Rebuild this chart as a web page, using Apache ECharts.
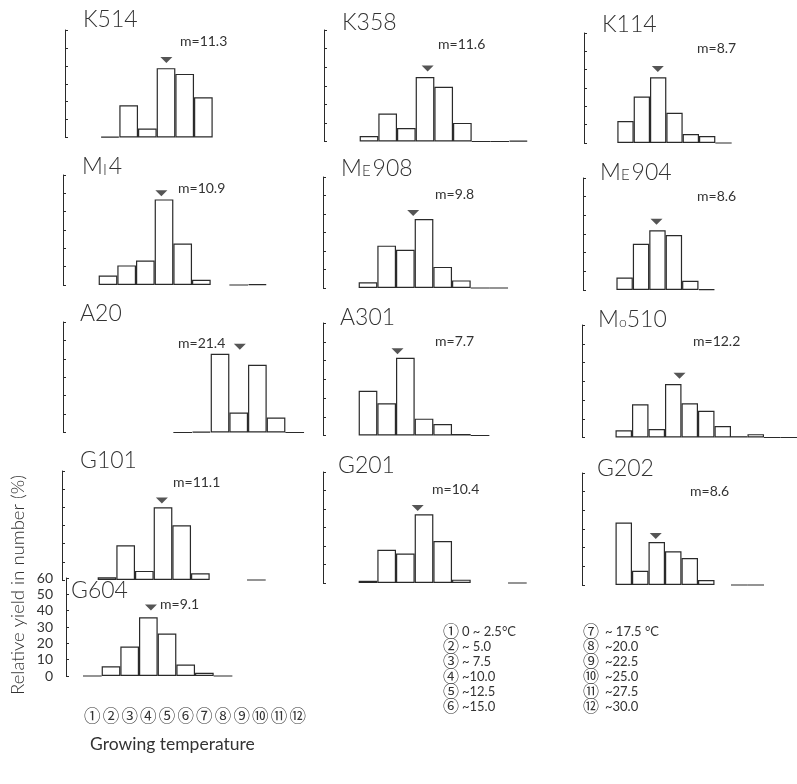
<!DOCTYPE html>
<html><head><meta charset="utf-8">
<script src="https://cdn.jsdelivr.net/npm/echarts@6/dist/echarts.min.js"></script>
<style>html,body{margin:0;padding:0;background:#fff}#c{width:797px;height:784px}</style>
</head><body><div id="c"></div>
<script>
// ---------- data ----------
const categories = ['①','②','③','④','⑤','⑥','⑦','⑧','⑨','⑩','⑪','⑫'];
const yTicks = [0,10,20,30,40,50,60];
const panelNames = ['K514','K358','K114','{a|M}{b|I}{a|4}','{a|M}{b|E}{a|908}','{a|M}{b|E}{a|904}','A20','A301','{a|M}{c|o}{a|510}','G101','G201','G202','G604'];
const meanValues = [11.3,11.6,8.7,10.9,9.8,8.6,21.4,7.7,12.2,11.1,10.4,8.6,9.1];
const meanLabels = ['m=11.3','m=11.6','m=8.7','m=10.9','m=9.8','m=8.6','m=21.4','m=7.7','m=12.2','m=11.1','m=10.4','m=8.6','m=9.1'];
const markerHeights = [43.2,39.3,40.3,50,40.5,36.5,46.5,45,33,43.7,40.5,26.2,42];
const K514  = [null,0.5,18,5,38.7,35.5,22.4,null,null,null,null,null];
const K358  = [null,3,15,7.3,34.7,29.5,10,0,0,0.5,null,null];
const K114  = [null,12,25.3,35.8,16.5,4.9,3.8,0,null,null,null,null];
const MI4   = [null,5.2,10.7,13.3,46.7,22.6,2.8,null,0,0.5,null,null];
const ME908 = [null,3.1,22.9,20.7,37.3,11.4,4.1,0,0,null,null,null];
const ME904 = [null,6.7,24.8,32,29.5,4.9,0.5,null,null,null,null,null];
const A20   = [null,null,null,null,null,0,0.5,42.7,10.8,36.8,8.1,0];
const A301  = [null,23.9,17.2,41.4,9,6.1,0.8,0,null,null,null,null];
const MO510 = [null,3.9,17.7,4.5,28.5,18.3,14.3,6.1,0.7,1.8,0,0];
const G101  = [null,1.5,19.1,5,40,30.1,3.7,null,null,0,null,null];
const G201  = [null,1.2,18,15.9,37.1,22.7,1.8,null,null,0,null,null];
const G202  = [null,33.5,7.6,23,18.1,14.5,2.7,null,0,0,null,null];
const G604  = [0,6,18,36,26,7,2,0,null,null,null,null];
const panelValues = [K514,K358,K114,MI4,ME908,ME904,A20,A301,MO510,G101,G201,G202,G604];
const legendRangesLeft = ['0 ~ 2.5°C','~ 5.0','~ 7.5','~10.0','~12.5','~15.0'];
const legendRangesRight = ['~ 17.5 °C','~20.0','~22.5','~25.0','~27.5','~30.0'];
const yTitle = 'Relative yield in number (%)';
const xTitle = 'Growing temperature';

// ---------- layout (positions only) ----------
const layout = [
  {ax:65, top:30, bot:137.5, tx:83, ty:20, mx:180, my:42.5},
  {ax:324,top:30, bot:141.5, tx:342,ty:23, mx:438, my:45},
  {ax:584,top:33, bot:143,   tx:602,ty:25, mx:697, my:49},
  {ax:63, top:175,bot:285,   tx:82, ty:167.5, mx:178, my:189},
  {ax:323,top:177,bot:288,   tx:341,ty:169, mx:435, my:195},
  {ax:583,top:178,bot:290,   tx:600,ty:173, mx:697, my:197.5},
  {ax:63, top:322,bot:432.5, tx:80, ty:314, mx:178, my:344.5},
  {ax:323,top:323,bot:435.5, tx:340,ty:318, mx:435, my:342.5},
  {ax:582,top:325,bot:437.5, tx:598,ty:320, mx:693, my:342},
  {ax:62, top:471,bot:580,   tx:80, ty:461, mx:173, my:483},
  {ax:323,top:472,bot:583,   tx:338,ty:466, mx:432, my:490},
  {ax:582,top:473,bot:585,   tx:597,ty:469.5, mx:690, my:492.5},
  {ax:66, top:578,bot:676,   tx:71, ty:591, mx:160, my:605}
];
const OFF = 17, CATW = 18.67;
const INK = '#2a2a2a', TXT = '#333';
const FONT = 'Lato, "DejaVu Sans", sans-serif';
const CJK = '"Noto Sans CJK JP", "DejaVu Sans", sans-serif';

const chart = echarts.init(document.getElementById('c'), null, {renderer:'canvas'});
const grids=[], xAxes=[], yAxes=[], series=[], graphics=[];
panelValues.forEach((vals,i)=>{
  const L = layout[i];
  const last = i === panelValues.length-1;
  grids.push({left:L.ax+OFF, top:L.top, width:CATW*12, height:L.bot-L.top, containLabel:false});
  xAxes.push({type:'category', gridIndex:i, data:categories, boundaryGap:true,
    axisLine:{show:false}, axisTick:{show:false},
    axisLabel:{show:last, margin:31, fontFamily:CJK, fontSize:16.5, color:TXT, interval:0}});
  xAxes.push({type:'value', gridIndex:i, min:0, max:30, show:false});
  yAxes.push({type:'value', gridIndex:i, min:yTicks[0], max:yTicks[yTicks.length-1], interval:yTicks[1]-yTicks[0],
    offset:OFF, axisLine:{show:true, onZero:false, lineStyle:{color:INK, width:1}},
    axisTick:{show:true, inside:true, length:3, lineStyle:{color:INK}},
    axisLabel:{show:last, margin:13, fontFamily:FONT, fontSize:14, color:TXT},
    splitLine:{show:false}});
  series.push({type:'bar', xAxisIndex:2*i, yAxisIndex:i, data:vals, barCategoryGap:'0%',
    itemStyle:{color:'rgba(255,255,255,0)', borderColor:INK, borderWidth:1.2}, silent:true});
  series.push({type:'scatter', xAxisIndex:2*i+1, yAxisIndex:i, data:[[meanValues[i], markerHeights[i]]],
    symbol:'triangle', symbolRotate:180, symbolSize:[12,6], itemStyle:{color:INK}, silent:true});
  graphics.push({type:'text', left:L.tx, top:L.ty-12, style:{
    text:panelNames[i], fill:TXT,
    rich:{a:{fontFamily:FONT, fontSize:23, fontWeight:300, fill:TXT}, b:{fontFamily:FONT, fontSize:15, fontWeight:300, fill:TXT, padding:[6,2,0,0]}, c:{fontFamily:FONT, fontSize:14, fontWeight:300, fill:TXT, padding:[5,0,0,0]}},
    font:'300 23px '+FONT}});
  graphics.push({type:'text', left:L.mx, top:L.my-8, style:{text:meanLabels[i], font:'14px '+FONT, fill:TXT}});
});
// legend table
categories.forEach((c,k)=>{
  const col = k<6 ? 0 : 1, row = k%6;
  const x0 = col===0 ? 443 : 583;
  graphics.push({type:'text', left:x0, top:623+row*15, style:{text:c, font:'16px '+CJK, fill:TXT}});
  graphics.push({type:'text', left:x0+(col===0?19:22), top:625+row*15,
    style:{text:(col===0?legendRangesLeft:legendRangesRight)[row], font:'13px '+FONT, fill:TXT}});
});
graphics.push({type:'text', x:18, y:585, rotation:Math.PI/2,
  style:{text:yTitle, font:'300 18.5px '+FONT, fill:TXT, textAlign:'center', textVerticalAlign:'middle'}});
graphics.push({type:'text', left:90, top:735, style:{text:xTitle, font:'17.5px '+FONT, fill:TXT}});

chart.setOption({backgroundColor:'#ffffff', animation:false, grid:grids, xAxis:xAxes, yAxis:yAxes, series:series, graphic:graphics});
</script></body></html>
